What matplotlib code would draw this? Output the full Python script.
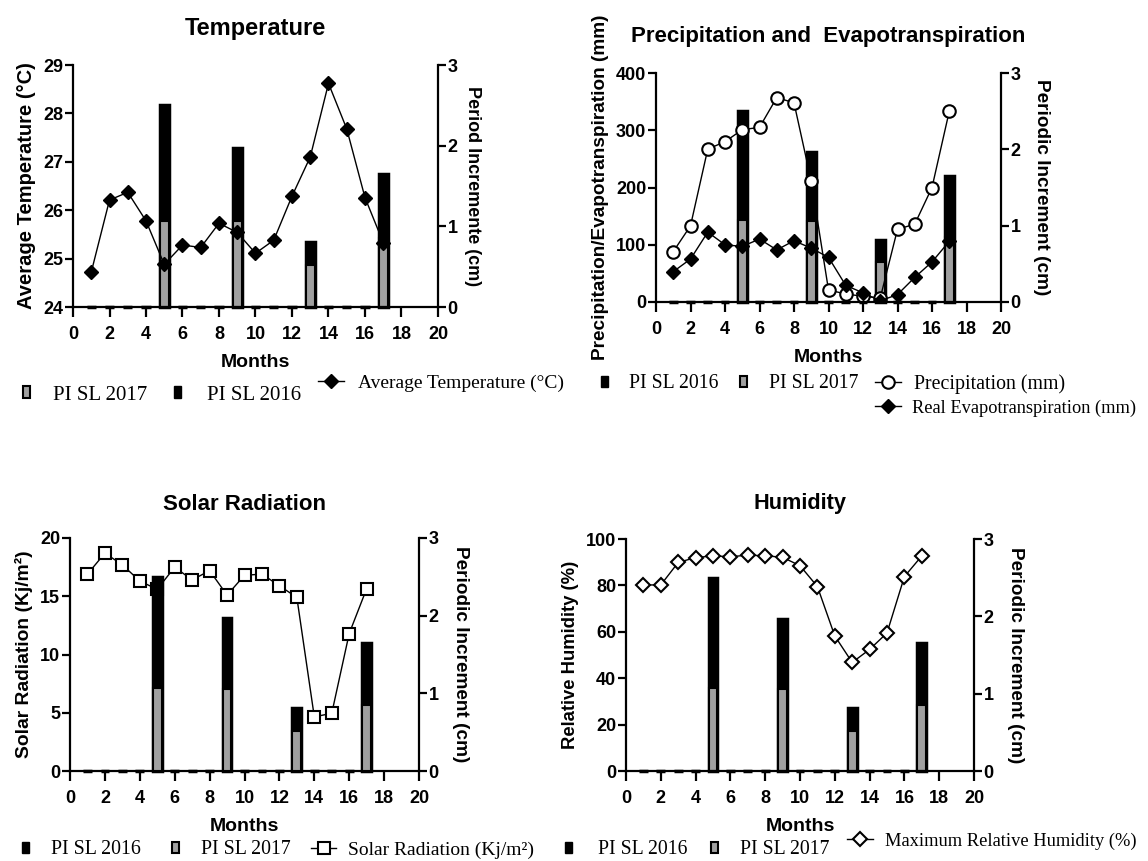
import matplotlib.pyplot as plt
from matplotlib.patches import Patch
from matplotlib.lines import Line2D

plt.rcParams['font.family'] = ['Liberation Sans', 'DejaVu Sans']
plt.rcParams['font.weight'] = 'bold'
plt.rcParams['axes.labelweight'] = 'bold'
plt.rcParams['axes.titleweight'] = 'bold'

meses = list(range(1, 18))
pi_2016 = [0, 0, 0, 0, 2.5, 0, 0, 0, 1.97, 0, 0, 0, 0.81, 0, 0, 0, 1.65]
pi_2017 = [0, 0, 0, 0, 1.07, 0, 0, 0, 1.06, 0, 0, 0, 0.52, 0, 0, 0, 0.85]

temperatura = [24.72, 26.21, 26.37, 25.78, 24.88, 25.28, 25.23, 25.73, 25.54,
               25.11, 25.38, 26.29, 27.10, 28.62, 27.68, 26.26, 25.33]
precipitacao = [88, 133, 267, 280, 301, 305, 357, 348, 211, 21, 14, 10, 7,
                127, 136, 200, 333]
evapotransp = [53, 75, 122, 100, 97, 110, 91, 107, 94, 78, 29, 16, 2, 13,
               43, 70, 106]
radiacao = [16.9, 18.7, 17.7, 16.3, 15.6, 17.5, 16.4, 17.2, 15.1, 16.8, 16.9,
            15.9, 14.9, 4.65, 4.95, 11.8, 15.65]
umidade = [80.2, 80.2, 89.9, 92.0, 92.7, 92.4, 93.0, 92.8, 92.1, 88.5, 79.5,
           58.2, 46.8, 52.4, 59.5, 83.8, 92.7]

W, H = 1148, 861
fig = plt.figure(figsize=(W / 100, H / 100), dpi=100)

CINZA = '#a0a0a0'


def rect(x0, x1, ytop, ybot):
    return [x0 / W, 1 - ybot / H, (x1 - x0) / W, (ybot - ytop) / H]


def estilo(ax):
    for lado in ['left', 'bottom', 'right']:
        ax.spines[lado].set_linewidth(1.6)
    ax.spines['top'].set_visible(False)
    ax.tick_params(axis='y', direction='out', length=5.5, width=1.6, labelsize=13, pad=1.5)
    ax.tick_params(axis='x', direction='out', length=7, width=1.6, labelsize=13, pad=6.5)


def painel(pos, titulo, tsize, tpad, ylabel, ysize, ylim, yticks, rlabel, rsize, rpad,
           linha_em_cima=True):
    ax = fig.add_axes(rect(*pos))
    ax2 = ax.twinx()
    ax2.bar(meses, pi_2016, width=0.5, color='black', edgecolor='black',
            linewidth=2.5, clip_on=False)
    ax2.bar(meses, pi_2017, width=0.5, color=CINZA, edgecolor='black',
            linewidth=1.5, clip_on=False)
    ax2.set_ylim(0, 3)
    ax2.set_yticks([0, 1, 2, 3])
    ax.set_xlim(0, 20)
    ax.set_xticks(range(0, 21, 2))
    ax.set_ylim(*ylim)
    ax.set_yticks(yticks)
    ax.set_title(titulo, fontsize=tsize, pad=tpad)
    ax.set_xlabel('Months', fontsize=14, labelpad=8)
    ax.set_ylabel(ylabel, fontsize=ysize, labelpad=5)
    ax2.set_ylabel(rlabel, fontsize=rsize, rotation=270, labelpad=rpad)
    estilo(ax)
    estilo(ax2)
    ax.spines['right'].set_visible(False)
    ax2.spines['left'].set_visible(False)
    ax2.spines['bottom'].set_visible(False)
    if linha_em_cima:
        ax.set_zorder(ax2.get_zorder() + 1)
        ax.patch.set_visible(False)
    return ax, ax2


def h16():
    return Patch(facecolor='black', edgecolor='black')


def h17():
    return Patch(facecolor=CINZA, edgecolor='black', linewidth=1.5)


def entrada(handle, rotulo, xh, xt, y, largura, altura=None, size=14.5):
    # xh: left edge of the handle, xt: left edge of the text, pixels
    fs = size * 100 / 72
    kw = dict(handlelength=largura / fs, handletextpad=(xt - xh - largura) / fs)
    if altura is not None:
        kw['handleheight'] = altura / fs
    fig.legend([handle], [rotulo], loc='center left',
               bbox_to_anchor=(xh / W, 1 - y / H), frameon=False,
               prop=dict(family='Liberation Serif', weight='normal', size=size),
               borderpad=0, borderaxespad=0, **kw)


def barra_leg(xh16, xt16, xh17, xt17, y, size=14.5):
    entrada(h16(), 'PI SL 2016', xh16, xt16, y, 7, 10, size)
    entrada(h17(), 'PI SL 2017', xh17, xt17, y, 7, 10, size)


# Temperatura
ax, ax2 = painel((73, 438, 65, 307), 'Temperature', 17, 21.5, 'Average Temperature (°C)', 14.5,
                 (24, 29), range(24, 30), 'Period Incremente (cm)', 13, 17)
ax.plot(meses, temperatura, color='black', lw=1, marker='D', ms=7)
barra_leg(174, 207, 23, 53, 395, 15)
entrada(Line2D([], [], color='black', lw=1, marker='D', ms=7),
        'Average Temperature (°C)', 318, 358, 383, 26, size=14)

# Precipitacao e evapotranspiracao
ax, ax2 = painel((656, 1001, 73, 302), 'Precipitation and  Evapotranspiration', 16, 22,
                 'Precipitation/Evapotranspiration (mm)', 13.7, (0, 400), range(0, 401, 100),
                 'Periodic Increment (cm)', 13.7, 21)
ax.plot(meses, precipitacao, color='black', lw=1, marker='o', ms=9, mfc='white', mew=1.5)
ax.plot(meses, evapotransp, color='black', lw=1, marker='D', ms=7)
barra_leg(601, 629, 740, 769, 384, 14.2)
entrada(Line2D([], [], color='black', lw=1, marker='o', ms=9, mfc='white', mew=1.5),
        'Precipitation (mm)', 875, 914, 384, 26, size=14.3)
entrada(Line2D([], [], color='black', lw=1, marker='D', ms=7),
        'Real Evapotranspiration (mm)', 875, 912, 408, 26, size=13.2)

# Radiacao solar
ax, ax2 = painel((70, 419, 538, 771), 'Solar Radiation', 16, 20, 'Solar Radiation (Kj/m²)', 13.9,
                 (0, 20), range(0, 21, 5), 'Periodic Increment (cm)', 13.7, 22,
                 linha_em_cima=False)
ax.plot(meses, radiacao, color='black', lw=1, marker='s', ms=8.5, mfc='white', mew=1.5)
barra_leg(22, 51, 172, 201, 850, 14.3)
entrada(Line2D([], [], color='black', lw=1, marker='s', ms=8.5, mfc='white', mew=1.5),
        'Solar Radiation (Kj/m²)', 311, 348, 850, 25, size=14)

# Umidade
ax, ax2 = painel((626, 974, 539, 771), 'Humidity', 15.7, 21.5, 'Relative Humidity (%)', 13.3,
                 (0, 100), range(0, 101, 20), 'Periodic Increment (cm)', 13.7, 22)
ax.plot(meses, umidade, color='black', lw=1, marker='D', ms=7.5, mfc='white', mew=1.5)
barra_leg(565, 598, 711, 740, 850, 14.2)
entrada(Line2D([], [], color='black', lw=1, marker='D', ms=7.5, mfc='white', mew=1.5),
        'Maximum Relative Humidity (%)', 847, 885, 841, 26, size=13.3)

fig.savefig('out.png', dpi=100)
